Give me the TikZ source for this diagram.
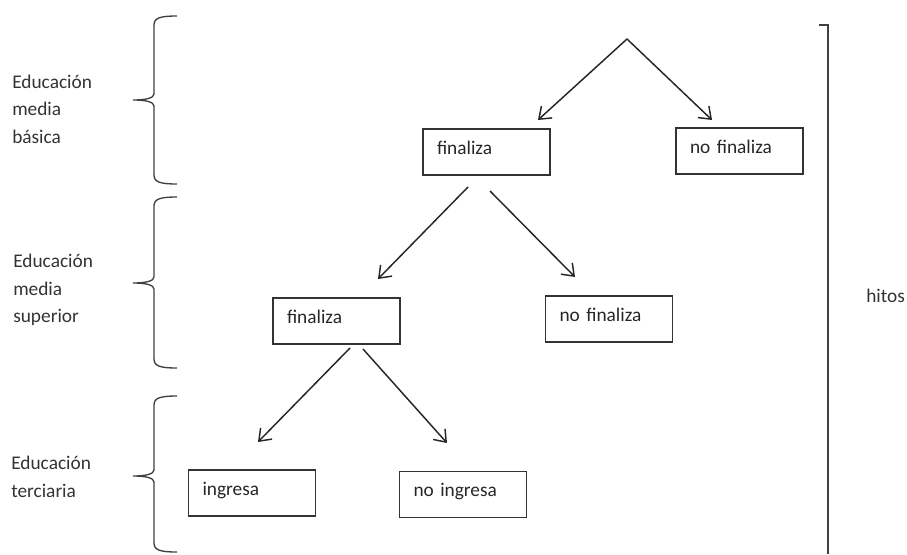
\documentclass[tikz,border=0pt]{standalone}
\usepackage{fontspec}
\setmainfont{Carlito}
\usetikzlibrary{arrows.meta}
\tikzstyle{StageBox}=[rectangle, draw=black!80, line width=1pt, text=black!85, text width=74.25pt, text height=10pt, text depth=7pt, inner xsep=10.5pt, inner ysep=0pt, minimum height=34.5pt, align=left]
\tikzstyle{LevelText}=[anchor=west, inner sep=0pt, align=left, text=black!80, font=\fontsize{14.5}{20.7}\selectfont]
\tikzstyle{ChoiceEdge}=[->, line width=1.1pt, black!85]
\tikzstyle{BraceLine}=[line width=1pt, black!75]
\tikzset{>={Straight Barb[length=8pt,width=12pt]}}

\begin{document}
\begin{tikzpicture}[x=0.75pt,y=-0.75pt, font=\fontsize{14.5}{20.7}\selectfont]
\useasboundingbox (0,0) rectangle (907,554);

\node[LevelText](Basica) at (12,109) {Educación\\media\\básica};
\node[LevelText](Superior) at (13,290) {Educación\\media\\superior};
\node[LevelText](Terciaria) at (11,477) {Educación\\terciaria};

\draw[BraceLine] (177,16) .. controls (160,16) and (154,18) .. (154,25) -- (154,94) .. controls (154,98) and (146,100) .. (133,100) .. controls (146,100) and (154,102) .. (154,106) -- (154,175) .. controls (154,182) and (160,184) .. (177,184);
\draw[BraceLine] (177,197) .. controls (160,197) and (154,199) .. (154,206) -- (154,277) .. controls (154,281) and (146,283) .. (133,283) .. controls (146,283) and (154,285) .. (154,289) -- (154,359) .. controls (154,366) and (160,368) .. (177,368);
\draw[BraceLine] (177,396) .. controls (160,396) and (154,398) .. (154,405) -- (154,470) .. controls (154,474) and (146,476) .. (133,476) .. controls (146,476) and (154,478) .. (154,482) -- (154,543) .. controls (154,550) and (160,552) .. (177,552);

\draw[BraceLine] (819,25) -- (828,25) -- (828,554);
\node[LevelText](Hitos) at (866,296) {hitos};

\node[StageBox](1FIN) at (486.5,152) {finaliza};
\node[StageBox](1NOFIN) at (739.5,151) {no finaliza};
\node[StageBox](2FIN) at (336.5,321) {finaliza};
\node[StageBox](2NOFIN) at (609,319) {no finaliza};
\node[StageBox](3ING) at (252,493) {ingresa};
\node[StageBox](3NOING) at (463,494.5) {no ingresa};

\coordinate (Root) at (627,39);
\coordinate (1FINtip) at (538,120);
\coordinate (1NOFINtip) at (712,120);
\coordinate (1FINleft) at (468,187);
\coordinate (1FINright) at (490,191);
\coordinate (2FINtip) at (378,279);
\coordinate (2NOFINtip) at (575,277);
\coordinate (2FINleft) at (350,348);
\coordinate (2FINright) at (363,349);
\coordinate (3INGtip) at (258,442);
\coordinate (3NOINGtip) at (447,443);

\draw[ChoiceEdge](Root) -- (1FINtip);
\draw[ChoiceEdge](Root) -- (1NOFINtip);
\draw[ChoiceEdge](1FINleft) -- (2FINtip);
\draw[ChoiceEdge](1FINright) -- (2NOFINtip);
\draw[ChoiceEdge](2FINleft) -- (3INGtip);
\draw[ChoiceEdge](2FINright) -- (3NOINGtip);
\end{tikzpicture}
\end{document}
